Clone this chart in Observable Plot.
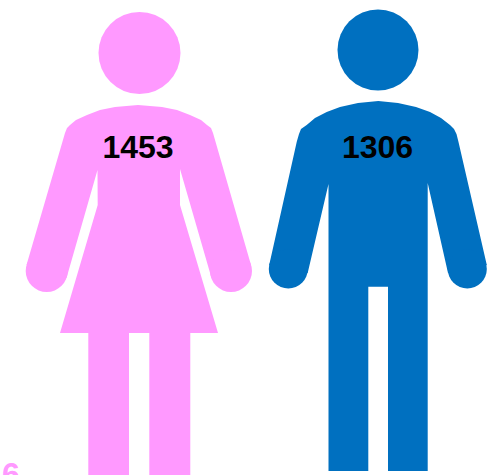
<!DOCTYPE html>
<html>
<head>
<meta charset="utf-8">
<script src="https://cdn.jsdelivr.net/npm/d3@7"></script>
<script src="https://cdn.jsdelivr.net/npm/@observablehq/plot@0.6"></script>
<style>html,body{margin:0;padding:0;background:#fff;overflow:hidden}svg{display:block}</style>
</head>
<body>
<script>
const pink = "#FF99FF";
const blue = "#0070C0";
const counts = ["1453", "1306"];
const countX = [138, 377.5];
const countY = [148, 148];
const clippedLabel = "6";
const womanHead = {x: 139.5, y: 53, r: 41};
const manHead = {x: 378, y: 50, r: 40.5};
const womanHands = [[46.7, 271], [231, 271]];
const manHands = [[288.3, 269], [467.3, 269]];
const handR = {woman: 21, man: 19.5};
const womanOutline = [
  [138,105],[115,107],[100,110],[87,115],[76,120],[70,125],[67,128],[65,133],
  [26.5,265],[66.5,278],[97.5,170],[97.7,205],[60,333],[88.3,333],[88.3,475],[129,475],[129,333],
  [149.3,333],[149.3,475],[190.3,475],[190.3,333],[218,333],[180,205],[180,169],
  [211.5,278],[251,265],[213,133],[211,128],[207,125],[201,120],[190,115],[177,110],[162,107]
];
const manOutline = [
  [378.3,101],[358,103],[340,107],[326.7,112],[315,118],[306.7,125],[301,129],[299,134],[296.7,142],
  [269.2,265],[307.7,273],[328.5,184],[328.5,471],[368.3,471],[368.3,286.7],[388,286.7],[388,471],[427.7,471],[427.7,183],
  [448,273],[486.8,265],[458.5,142],[456.5,134],[454,129],[450,125],[441,118],[430,112],[416,107],[398,103]
];
const pt = {x: d => d[0], y: d => d[1]};
const plot = Plot.plot({
  width: 487, height: 475,
  margin: 0,
  x: {domain: [0.5, 487.5], range: [0, 487], axis: null},
  y: {domain: [0.5, 475.5], range: [0, 475], axis: null},
  marks: [
    Plot.line(womanOutline, {...pt, fill: pink, stroke: "none"}),
    Plot.line(manOutline, {...pt, fill: blue, stroke: "none"}),
    Plot.dot([womanHead], {x: "x", y: "y", r: womanHead.r, fill: pink}),
    Plot.dot([manHead], {x: "x", y: "y", r: manHead.r, fill: blue}),
    Plot.dot(womanHands, {...pt, r: handR.woman, fill: pink}),
    Plot.dot(manHands, {...pt, r: handR.man, fill: blue}),
    Plot.text(counts, {x: (d, i) => countX[i], y: (d, i) => countY[i], text: d => d, fontFamily: "Liberation Sans", fontWeight: "bold", fontSize: 32, fill: "#000", lineAnchor: "middle"}),
    Plot.text([clippedLabel], {x: [11], y: [462], text: d => d, fontFamily: "Liberation Sans", fontWeight: "bold", fontSize: 32, fill: pink, lineAnchor: "top"})
  ]
});
document.body.appendChild(plot);
</script>
</body>
</html>
